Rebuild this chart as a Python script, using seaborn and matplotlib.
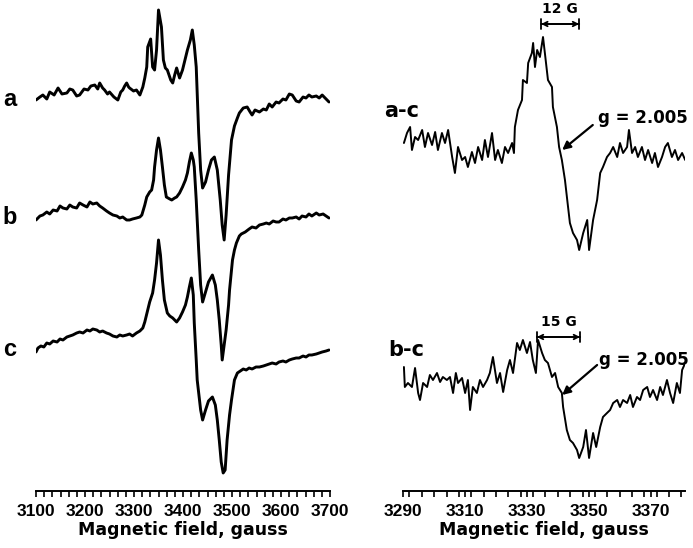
import numpy as np
import pandas as pd
import seaborn as sns
import matplotlib.pyplot as plt
from matplotlib.ticker import MultipleLocator

# ---- left panel: EPR spectra a, b, c (field in gauss, signal in arbitrary units) ----
field_a = [3100, 3108, 3114, 3122, 3128, 3137, 3145, 3153, 3163, 3169, 3175, 3183, 3189, 3198, 3206,
           3212, 3220, 3226, 3230, 3236, 3240, 3246, 3250, 3259, 3267, 3273, 3277, 3281, 3285, 3289,
           3291, 3299, 3305, 3312, 3318, 3322, 3326, 3328, 3334, 3338, 3342, 3346, 3350, 3356, 3360,
           3364, 3368, 3375, 3379, 3383, 3387, 3393, 3399, 3403, 3409, 3415, 3419, 3423, 3427, 3432,
           3436, 3440, 3446, 3452, 3458, 3464, 3470, 3476, 3480, 3484, 3488, 3493, 3499, 3505, 3511,
           3515, 3523, 3531, 3537, 3541, 3547, 3556, 3564, 3570, 3576, 3582, 3590, 3596, 3604, 3610,
           3617, 3623, 3631, 3637, 3645, 3651, 3657, 3663, 3672, 3678, 3684, 3688, 3694, 3698]
signal_a = [0, 3, 5, 1, 8, 5, 12, 6, 7, 11, 10, 4, 5, 11, 10,
            14, 15, 11, 17, 12, 10, 6, 8, 3, 0, 8, 10, 14, 17, 13,
            12, 9, 10, 5, 13, 22, 33, 53, 61, 33, 30, 50, 90, 73, 40,
            32, 30, 20, 17, 25, 32, 22, 30, 38, 50, 60, 70, 55, 33, -33,
            -70, -88, -82, -70, -60, -57, -70, -100, -125, -140, -115, -75, -40, -26, -18,
            -13, -8, -7, -12, -15, -10, -12, -9, -10, -4, -7, -2, -3, 1, 0,
            6, 5, -1, -2, 3, 2, 5, 3, 4, 2, 5, 3, 0, -2]

field_b = [3100, 3108, 3114, 3122, 3128, 3135, 3143, 3149, 3155, 3163, 3169, 3175, 3183, 3189, 3196,
           3204, 3210, 3216, 3224, 3230, 3236, 3244, 3250, 3257, 3265, 3271, 3277, 3285, 3291, 3297,
           3305, 3312, 3316, 3322, 3326, 3332, 3336, 3340, 3342, 3346, 3350, 3354, 3358, 3362, 3366,
           3373, 3377, 3383, 3387, 3393, 3399, 3405, 3409, 3413, 3417, 3421, 3423, 3427, 3432, 3436,
           3440, 3446, 3452, 3460, 3466, 3470, 3474, 3478, 3480, 3484, 3488, 3493, 3495, 3501, 3505,
           3509, 3515, 3519, 3527, 3535, 3541, 3549, 3556, 3564, 3570, 3576, 3584, 3590, 3596, 3604,
           3610, 3617, 3623, 3631, 3637, 3643, 3651, 3657, 3663, 3672, 3678, 3686, 3692, 3698]
signal_b = [0, 4, 5, 8, 6, 10, 9, 14, 12, 11, 15, 13, 12, 17, 15,
            13, 18, 16, 17, 14, 12, 9, 7, 5, 4, 2, 3, 0, 0, 1,
            2, 3, 5, 15, 23, 28, 30, 40, 53, 70, 82, 70, 53, 35, 23,
            21, 20, 22, 23, 27, 33, 40, 47, 58, 67, 60, 53, 20, -30, -65,
            -82, -72, -62, -55, -65, -80, -100, -125, -140, -125, -110, -85, -70, -40, -30,
            -23, -16, -14, -12, -9, -7, -8, -5, -4, -3, -4, -1, -2, -2, 1,
            0, 2, 2, 3, 1, 4, 3, 6, 4, 7, 5, 6, 4, 2]

field_c = [3100, 3104, 3110, 3116, 3122, 3128, 3135, 3143, 3149, 3155, 3163, 3169, 3175, 3183, 3189,
           3196, 3204, 3210, 3216, 3224, 3230, 3236, 3244, 3250, 3257, 3265, 3271, 3277, 3285, 3291,
           3297, 3305, 3312, 3318, 3322, 3328, 3332, 3338, 3342, 3346, 3350, 3354, 3358, 3362, 3368,
           3373, 3379, 3383, 3387, 3393, 3399, 3405, 3409, 3413, 3417, 3421, 3423, 3427, 3429, 3436,
           3440, 3446, 3452, 3460, 3466, 3470, 3474, 3478, 3482, 3486, 3490, 3495, 3499, 3505, 3511,
           3517, 3523, 3529, 3535, 3541, 3549, 3556, 3564, 3570, 3576, 3582, 3590, 3596, 3604, 3610,
           3617, 3623, 3631, 3637, 3645, 3651, 3657, 3663, 3672, 3678, 3684, 3692, 3698]
signal_c = [-2, 2, 4, 3, 7, 6, 9, 8, 11, 10, 13, 14, 15, 17, 18,
            17, 20, 19, 21, 20, 18, 19, 17, 16, 14, 13, 15, 14, 15, 16,
            14, 17, 19, 22, 28, 40, 48, 57, 70, 87, 110, 95, 70, 50, 37,
            34, 32, 30, 28, 32, 38, 45, 53, 63, 72, 55, 27, -10, -30, -60,
            -70, -60, -51, -47, -55, -70, -90, -112, -123, -120, -90, -65, -50, -30, -23,
            -21, -19, -20, -18, -19, -17, -17, -16, -15, -14, -13, -14, -12, -11, -12,
            -10, -9, -8, -8, -6, -7, -5, -5, -4, -3, -2, -1, 0]

# ---- right panel: difference spectra a-c and b-c ----
field_ac = [3290.2, 3291.2, 3292.2, 3292.8, 3293.8, 3294.8, 3296.1, 3297.0, 3298.0, 3299.3,
            3300.3, 3301.2, 3302.5, 3303.5, 3304.5, 3305.8, 3306.7, 3307.7, 3309.0, 3310.0,
            3310.9, 3312.2, 3313.2, 3314.2, 3315.5, 3316.4, 3317.4, 3318.7, 3319.7, 3320.6,
            3321.9, 3322.9, 3323.9, 3325.2, 3325.8, 3326.1, 3327.1, 3328.4, 3328.7, 3330.0,
            3330.4, 3331.6, 3332.0, 3332.6, 3333.3, 3334.2, 3335.2, 3335.8, 3336.8, 3338.1,
            3338.4, 3339.7, 3340.4, 3341.3, 3342.3, 3343.3, 3343.9, 3344.9, 3346.2, 3346.9,
            3348.2, 3349.5, 3350.1, 3351.4, 3352.7, 3353.7, 3354.6, 3355.9, 3356.9, 3357.9,
            3359.2, 3360.1, 3361.1, 3362.4, 3363.0, 3364.0, 3365.0, 3365.9, 3367.2, 3368.2,
            3369.2, 3370.5, 3371.4, 3372.4, 3373.7, 3374.7, 3375.6, 3376.9, 3377.9, 3378.9,
            3380.2, 3381.2]
signal_ac = [0, 10, 16, -7, 6, 3, 13, -4, 10, -2,
             11, -7, 10, 0, 13, -14, -30, -4, -17, -14,
             -24, -9, -20, -4, -17, 3, -14, 10, -17, -7,
             -20, -4, -10, 0, -10, 16, 33, 43, 63, 60,
             80, 90, 100, 76, 93, 86, 106, 90, 63, 56,
             36, 16, -4, -17, -37, -64, -80, -90, -97, -107,
             -90, -77, -107, -77, -57, -30, -24, -14, -10, -4,
             -14, 0, -10, -4, 13, -10, -4, -14, -4, -17,
             -7, -20, -10, -24, -14, -4, 0, -14, -7, -17,
             -10, -17]

field_bc = [3290.2, 3290.5, 3291.5, 3292.8, 3293.8, 3294.8, 3295.4, 3296.4, 3297.7, 3298.6,
            3299.6, 3300.9, 3301.9, 3302.8, 3304.1, 3305.1, 3306.1, 3307.0, 3307.7, 3309.0,
            3310.0, 3310.9, 3311.6, 3312.5, 3313.8, 3314.8, 3315.8, 3317.1, 3318.0, 3319.0,
            3320.3, 3321.3, 3322.3, 3323.6, 3324.5, 3325.5, 3326.8, 3327.7, 3328.7, 3330.0,
            3331.0, 3331.9, 3332.9, 3333.6, 3334.9, 3335.8, 3336.8, 3338.1, 3339.1, 3340.1,
            3341.3, 3341.7, 3342.9, 3343.9, 3344.9, 3346.2, 3346.9, 3348.2, 3349.1, 3350.1,
            3351.4, 3352.4, 3353.7, 3354.6, 3355.9, 3356.9, 3357.9, 3359.2, 3360.1, 3361.1,
            3362.4, 3363.4, 3364.3, 3365.6, 3366.6, 3367.6, 3368.9, 3369.8, 3370.8, 3372.1,
            3373.1, 3374.0, 3375.3, 3376.3, 3377.3, 3378.5, 3379.5, 3380.2, 3381.2]
signal_bc = [13, -7, -3, -7, 12, -13, -20, -3, -7, 5,
             0, 7, -2, 3, 0, 3, -13, 7, -3, 2,
             -13, 0, -30, -7, -13, 0, -7, 0, 7, 23,
             -3, 7, -12, 10, 20, 7, 37, 30, 40, 27,
             38, 20, 7, 40, 27, 20, 17, 3, 7, -7,
             -13, -27, -50, -60, -63, -70, -78, -67, -50, -78,
             -53, -67, -47, -37, -33, -30, -23, -20, -27, -20,
             -23, -15, -27, -17, -20, -10, -7, -17, -10, -20,
             -7, -15, 0, -13, -23, -3, -13, 10, 17]

left_labels = ["a", "b", "c"]
right_labels = ["a-c", "b-c"]
splittings = ["12 G", "15 G"]
g_text = "g = 2.005"

sns.set_style("white")
plt.rcParams['font.family'] = ['Liberation Sans', 'DejaVu Sans']
plt.rcParams['font.weight'] = 'bold'
plt.rcParams['text.color'] = 'black'
plt.rcParams['axes.labelcolor'] = 'black'
plt.rcParams['xtick.color'] = 'black'
wide = ['DejaVu Sans']

fig = plt.figure(figsize=(6.93, 5.48), dpi=100)
ax1 = fig.add_axes([36 / 693, 57 / 548, 294 / 693, 491 / 548])
ax2 = fig.add_axes([403.3 / 693, 57 / 548, 281.9 / 693, 491 / 548])

# left: stacked spectra
offsets = [-100, -220, -350]
for fld, sig, off, lab in zip([field_a, field_b, field_c], [signal_a, signal_b, signal_c], offsets, left_labels):
    df = pd.DataFrame({"field": fld, "signal": np.array(sig) + off})
    sns.lineplot(data=df, x="field", y="signal", ax=ax1, color="black", lw=2.1,
                 sort=False, estimator=None)
    ax1.text(3047, off if lab != "b" else off + 3, lab, ha="center", va="center",
             fontsize=17, fontweight="bold", clip_on=False)

# right: difference spectra
offsets2 = [-143, -380]
for fld, sig, off, lab in zip([field_ac, field_bc], [signal_ac, signal_bc], offsets2, right_labels):
    df = pd.DataFrame({"field": fld, "signal": np.array(sig) + off})
    sns.lineplot(data=df, x="field", y="signal", ax=ax2, color="black", lw=1.4,
                 sort=False, estimator=None)

ax2.text(3289.5, -111, right_labels[0], ha="center", va="center", fontsize=15,
         fontweight="bold", family=wide, clip_on=False)
ax2.text(3291.0, -350, right_labels[1], ha="center", va="center", fontsize=15,
         fontweight="bold", family=wide, clip_on=False)

# splitting brackets
for (x0, x1, yb, yt, lab) in [(3334.6, 3346.9, -24, -9, splittings[0]),
                              (3333.2, 3347.2, -337, -322, splittings[1])]:
    ax2.annotate("", xy=(x0, yb), xytext=(x1, yb),
                 arrowprops=dict(arrowstyle="<->", lw=1.3, color="black", shrinkA=0, shrinkB=0,
                                 mutation_scale=8))
    ax2.annotate("", xy=(x0, yb), xytext=(x1, yb),
                 arrowprops=dict(arrowstyle="|-|, widthA=0.35, widthB=0.35", lw=1.3, color="black",
                                 shrinkA=0, shrinkB=0))
    ax2.text((x0 + x1) / 2, yt, lab, ha="center", va="center", fontsize=10,
             fontweight="bold", family=wide)

# g-value arrows
for (tx, ty, x0, y0, x1, y1) in [(3367.6, -118, 3351.3, -125, 3341.4, -150),
                                 (3367.9, -360, 3352.7, -365, 3341.4, -395)]:
    ax2.annotate("", xy=(x1, y1), xytext=(x0, y0),
                 arrowprops=dict(arrowstyle="-|>", lw=1.6, color="black", mutation_scale=12,
                                 shrinkA=0, shrinkB=0))
    ax2.text(tx, ty, g_text, ha="center", va="center", fontsize=12, fontweight="bold", family=wide)

ax1.set_xlim(3100, 3700)
ax2.set_xlim(3290, 3381.2)
ax1.xaxis.set_major_locator(MultipleLocator(100))
ax1.xaxis.set_minor_locator(MultipleLocator(100 / 6))
ax2.set_xticks([3290, 3310, 3330, 3350, 3370])
ax2.xaxis.set_minor_locator(MultipleLocator(4))

for ax in (ax1, ax2):
    ax.set_ylim(-491, 0)
    ax.set_yticks([])
    ax.set_ylabel("")
    for s in ("left", "right", "top"):
        ax.spines[s].set_visible(False)
    ax.spines["bottom"].set_linewidth(1.4)
    ax.spines["bottom"].set_color("black")
    ax.tick_params(axis="x", which="both", direction="out", length=4.5, width=1.2,
                   color="black", labelcolor="black", bottom=True, pad=5, labelsize=12.5)
    ax.set_xlabel("Magnetic field, gauss", fontsize=12.5, fontweight="bold",
                  family=wide, labelpad=1, color="black")
    for t in ax.get_xticklabels():
        t.set_fontweight("bold")

fig.savefig("out.png", dpi=100)
